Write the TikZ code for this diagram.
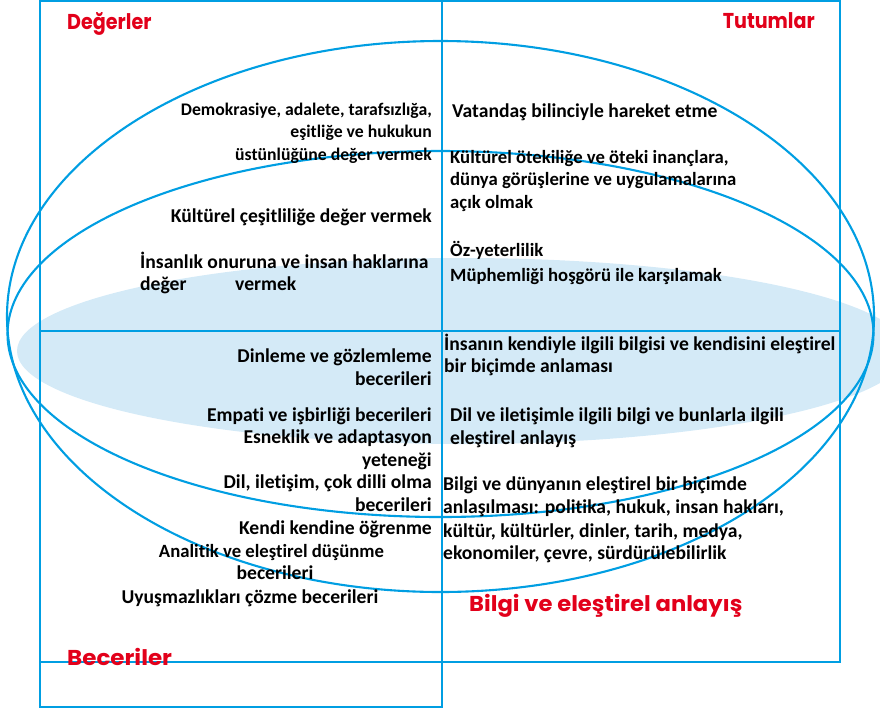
\documentclass[tikz,border=0pt]{standalone}
\usepackage{graphicx}
\usepackage{fontspec}
\setmainfont{Carlito}[Ligatures=NoCommon]
\newfontfamily\labfont{Poppins}
\definecolor{lineblue}{RGB}{0,158,226}
\definecolor{fillblue}{RGB}{212,234,247}
\definecolor{labred}{RGB}{226,0,26}
\tikzset{
  bl/.style={draw=lineblue, line width=2.1pt},
  txt/.style={inner sep=0pt, font=\fontsize{19.6}{23}\selectfont\bfseries, text=black},
  sm/.style={font=\fontsize{17.7}{21}\selectfont\bfseries},
  md/.style={font=\fontsize{18.7}{22}\selectfont\bfseries},
  lr/.style={txt, anchor=base east},
  ll/.style={txt, anchor=base west},
  lc/.style={txt, anchor=base},
  red/.style={inner sep=0pt, font=\labfont\bfseries\fontsize{21.5}{25}\selectfont, text=labred, anchor=base west}
}
\begin{document}
\begin{tikzpicture}[x=1pt,y=-1pt]
\useasboundingbox (0,0) rectangle (880,710);
\clip (0,0) rectangle (880,710);
% shaded ellipse
\fill[fillblue] (462,351) ellipse [x radius=445pt, y radius=93pt];
% outline ellipses
\draw[bl] (440.5,316.5) ellipse [x radius=433.5pt, y radius=275.5pt];
\draw[bl] (440.5,334) ellipse [x radius=433pt, y radius=183pt];
% frames
\draw[bl] (40,1) rectangle (442,707);
\draw[bl] (442,1) rectangle (840,662);
\draw[bl] (40,331) -- (840,331);
\draw[bl] (40,662) -- (442,662);
% red labels
\node[red] (deg) at (67,29) {\scalebox{0.89}[1]{Değerler}};
\node[red, anchor=base east] (tut) at (815,28.5) {\scalebox{0.89}[1]{Tutumlar}};
\node[red] (bec) at (67,665.5) {\scalebox{1.07}[1]{Beceriler}};
\node[red] (bil) at (469,611) {\scalebox{1.054}[1]{Bilgi ve eleştirel anlayış}};
% Değerler
\node[lr, sm] (d1) at (432,115) {Demokrasiye, adalete, tarafsızlığa,};
\node[lr, sm] (d2) at (432,137.5) {eşitliğe ve hukukun};
\node[lr, sm] (d3) at (432,160) {üstünlüğüne değer vermek};
\node[lr] (d4) at (432,222.3) {Kültürel çeşitliliğe değer vermek};
\node[ll] (d5) at (140,268.3) {İnsanlık onuruna ve insan haklarına};
\node[ll] (d6) at (140,290) {değer};
\node[ll] (d7) at (235,290) {vermek};
% Tutumlar
\node[ll] (t1) at (452,117.3) {Vatandaş bilinciyle hareket etme};
\node[ll, md] (t2) at (450,163.3) {Kültürel ötekiliğe ve öteki inançlara,};
\node[ll, md] (t3) at (450,185.5) {dünya görüşlerine ve uygulamalarına};
\node[ll, md] (t4) at (450,208.3) {açık olmak};
\node[ll, md] (t5) at (450,256) {Öz-yeterlilik};
\node[ll, md] (t6) at (450,281.7) {Müphemliği hoşgörü ile karşılamak};
% Beceriler
\node[lr] (b1) at (432,362.7) {Dinleme ve gözlemleme};
\node[lr] (b2) at (432,385) {becerileri};
\node[lr] (b3) at (432,421) {Empati ve işbirliği becerileri};
\node[lr] (b4) at (432,443.3) {Esneklik ve adaptasyon};
\node[lr] (b5) at (432,466) {yeteneği};
\node[lr] (b6) at (432,488.7) {Dil, iletişim, çok dilli olma};
\node[lr] (b7) at (432,511) {becerileri};
\node[lr] (b8) at (432,534.3) {Kendi kendine öğrenme};
\node[lc, md] (b9) at (271.5,557.7) {Analitik ve eleştirel düşünme};
\node[lc] (b10) at (275,579.3) {becerileri};
\node[lc] (b11) at (250,603.3) {Uyuşmazlıkları çözme becerileri};
% Bilgi
\node[ll] (k1) at (444,350) {İnsanın kendiyle ilgili bilgisi ve kendisini eleştirel};
\node[ll] (k2) at (444,372.7) {bir biçimde anlaması};
\node[ll] (k3) at (450,421.7) {Dil ve iletişimle ilgili bilgi ve bunlarla ilgili};
\node[ll] (k4) at (450,444) {eleştirel anlayış};
\node[ll] (k5) at (443,490.7) {Bilgi ve dünyanın eleştirel bir biçimde};
\node[ll] (k6) at (443,513.3) {anlaşılması: politika, hukuk, insan hakları,};
\node[ll] (k7) at (443,537.3) {kültür, kültürler, dinler, tarih, medya,};
\node[ll] (k8) at (443,559.3) {ekonomiler, çevre, sürdürülebilirlik};
\end{tikzpicture}
\end{document}
